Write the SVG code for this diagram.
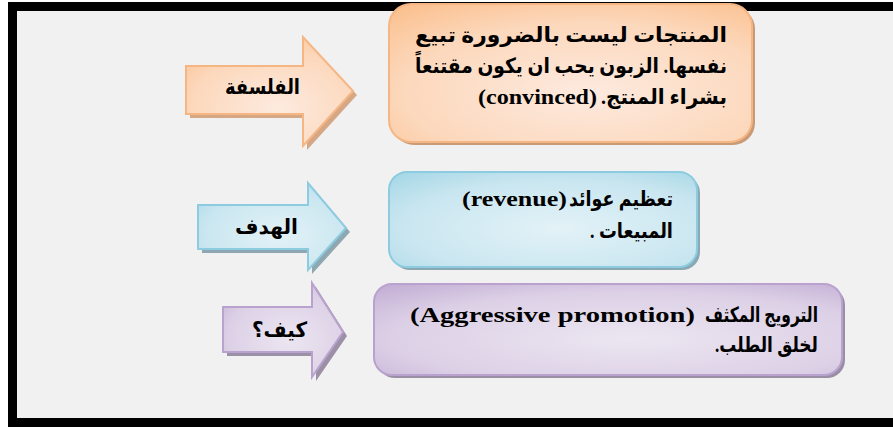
<svg xmlns="http://www.w3.org/2000/svg" width="893" height="427" viewBox="0 0 893 427">
<defs>
<style>
.t{font-family:"Liberation Serif","DejaVu Sans",serif;font-weight:bold;fill:#000;}
.ar{font-size:21px;}
.lt{font-size:22px;}
.lbl{font-size:21px;}
</style>
<radialGradient id="gO" cx="0.55" cy="0.65" r="0.85">
<stop offset="0" stop-color="#fdeadf"/><stop offset="0.6" stop-color="#fcd8bc"/><stop offset="1" stop-color="#fbbd89"/>
</radialGradient>
<radialGradient id="gB" cx="0.55" cy="0.6" r="0.85">
<stop offset="0" stop-color="#e3f2f7"/><stop offset="0.6" stop-color="#c9e6f0"/><stop offset="1" stop-color="#9dd3e4"/>
</radialGradient>
<radialGradient id="gP" cx="0.55" cy="0.6" r="0.85">
<stop offset="0" stop-color="#ece6f1"/><stop offset="0.6" stop-color="#dcd0e6"/><stop offset="1" stop-color="#bda6d0"/>
</radialGradient>
</defs>
<rect x="0" y="0" width="893" height="427" fill="#ffffff"/>
<rect x="17" y="11" width="876" height="407" fill="#f1f1f1"/>
<rect x="8" y="2" width="885" height="9" fill="#000"/>
<rect x="8" y="2" width="9" height="425" fill="#000"/>
<rect x="8" y="418" width="885" height="9" fill="#000"/>

<g id="arrow-philosophy">
<polygon points="190,70 307,70 307,41 357,95 307,150 307,118 190,118" fill="#d6a784"/>
<polygon points="186,66 303,66 303,37 353,91 303,146 303,114 186,114" fill="url(#gO)" stroke="#f6b684" stroke-width="2"/>
<text class="t lbl" x="225" y="94" textLength="75" lengthAdjust="spacingAndGlyphs">الفلسفة</text>
</g>
<g id="arrow-goal">
<polygon points="202,209 312,209 312,187 350,232 312,274 312,253 202,253" fill="#8ea7b0"/>
<polygon points="198,205 308,205 308,183 346,228 308,270 308,249 198,249" fill="url(#gB)" stroke="#8ccbe0" stroke-width="2"/>
<text class="t lbl" x="235" y="234" textLength="63" lengthAdjust="spacingAndGlyphs">الهدف</text>
</g>
<g id="arrow-how">
<polygon points="227,311 316,311 316,287 347,336 316,381 316,356 227,356" fill="#9c90a7"/>
<polygon points="223,307 312,307 312,283 343,332 312,377 312,352 223,352" fill="url(#gP)" stroke="#b9a2cd" stroke-width="2"/>
<text class="t lbl" x="252" y="337" textLength="55" lengthAdjust="spacingAndGlyphs">كيف؟</text>
</g>

<g id="box-philosophy">
<rect x="392" y="7" width="363" height="138" rx="22" fill="#c99a76"/>
<rect x="389" y="4" width="363" height="138" rx="22" fill="url(#gO)" stroke="#f6b684" stroke-width="2"/>
<text class="t ar" x="415" y="42" textLength="312" lengthAdjust="spacingAndGlyphs">المنتجات ليست بالضرورة تبيع</text>
<text class="t ar" x="415" y="73" textLength="312" lengthAdjust="spacingAndGlyphs">نفسها. الزبون يحب ان يكون مقتنعاً</text>
<text class="t lt" x="478" y="104" textLength="119" lengthAdjust="spacingAndGlyphs">(convinced)</text>
<text class="t ar" x="601" y="104" textLength="126" lengthAdjust="spacingAndGlyphs">.بشراء المنتج</text>
</g>
<g id="box-goal">
<rect x="392" y="175" width="308" height="95" rx="18" fill="#89a8b2"/>
<rect x="389" y="172" width="308" height="95" rx="18" fill="url(#gB)" stroke="#8ccbe0" stroke-width="2"/>
<text class="t lt" x="462" y="206" textLength="105" lengthAdjust="spacingAndGlyphs">(revenue)</text>
<text class="t ar" x="569" y="206" textLength="104" lengthAdjust="spacingAndGlyphs">تعظيم عوائد</text>
<text class="t ar" x="590" y="238" textLength="83" lengthAdjust="spacingAndGlyphs">. المبيعات</text>
</g>
<g id="box-how">
<rect x="377" y="287" width="468" height="91" rx="18" fill="#9a8ea6"/>
<rect x="374" y="284" width="468" height="91" rx="18" fill="url(#gP)" stroke="#b9a2cd" stroke-width="2"/>
<text class="t lt" x="410" y="322" textLength="285" lengthAdjust="spacingAndGlyphs">(Aggressive promotion)</text>
<text class="t ar" x="705" y="322" textLength="113" lengthAdjust="spacingAndGlyphs">الترويج المكثف</text>
<text class="t ar" x="715" y="352" textLength="103" lengthAdjust="spacingAndGlyphs">.لخلق الطلب</text>
</g>
<g id="connectors"></g>
</svg>
